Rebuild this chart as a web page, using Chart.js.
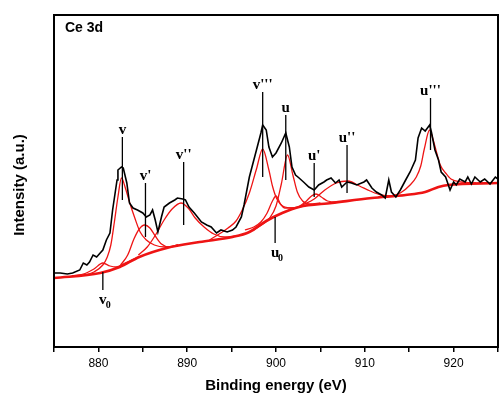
<!DOCTYPE html>
<html>
<head>
<meta charset="utf-8">
<script src="https://cdn.jsdelivr.net/npm/chart.js@4.4.0/dist/chart.umd.min.js"></script>
<style>
 body{margin:0;background:#fff;}
</style>
</head>
<body>
<canvas id="xps" width="502" height="396"></canvas>
<script>
// measured spectrum (binding energy in eV, intensity in a.u.)
var energy = [875.1,875.7,876.5,877.1,877.9,878.3,878.7,879.0,879.4,879.8,880.2,880.5,880.9,881.3,881.6,882.1,882.2,882.6,882.8,883.2,
  883.5,883.9,884.4,885.0,885.4,885.8,886.1,886.4,886.7,887.1,887.4,888.0,888.6,888.9,889.5,889.8,890.2,890.8,891.6,892.2,
  892.7,893.3,893.8,894.5,895.1,895.5,896.1,896.4,897.0,897.8,898.3,898.5,898.9,899.2,899.6,900.0,900.6,901.1,901.5,901.8,
  902.2,902.6,903.1,903.7,904.3,904.8,905.4,905.7,906.2,906.7,907.1,907.4,908.0,908.5,909.1,909.9,910.2,910.8,911.3,911.9,
  912.3,912.7,913.0,913.5,914.0,914.6,915.1,915.7,916.0,916.4,916.8,917.3,917.5,917.9,918.3,918.6,919.1,919.6,920.0,920.3,
  920.7,921.3,921.6,922.0,922.4,923.0,923.5,924.1,924.7,925.0];
var counts = [74,74,73,74,77,84,82,85,92,90,94,97,107,114,137,167,177,180,179,164,
  144,139,137,134,130,132,137,127,115,130,140,144,147,149,148,147,140,134,125,122,
  120,114,117,115,117,120,130,142,170,197,214,222,217,200,190,194,204,214,200,180,
  172,169,165,160,157,162,165,167,169,164,167,160,165,164,162,165,167,159,155,152,
  149,167,155,150,157,167,175,187,209,219,216,222,215,197,187,175,170,157,165,162,
  168,165,170,163,170,165,168,163,170,168];

// Shirley background
var bgEnergy = [875.0,880.2,882.4,884.6,887.7,891.4,895.1,897.0,898.9,900.7,902.6,906.3,910.8,914.6,916.8,918.3,919.4,925.0];
var bgCounts = [69,74,80,90,99,105,110,115,126,134,140,144,149,152,155,160,162,164];

// fitted components
var peakV0 = [[877.0,71],[878.5,73.5],[879.5,78],[880.5,84],[881.3,81],[882.0,80],[883.0,84],[884.5,90]];
var peakV = [[878.0,71],[879.5,75],[880.5,82],[881.0,90],[881.4,102],[881.8,125],[882.2,150],[882.6,169],[883.0,160],
  [883.5,145],[884.1,129],[884.7,115],[885.4,107],[886.3,102],[887.5,100],[889.0,102]];
var peakV1 = [[882.5,82],[883.3,92],[884.0,108],[884.6,118],[885.2,122],[885.8,119],[886.4,111],[887.1,103],[888.0,100],[889.0,102]];
var peakV2 = [[884.5,92],[885.5,100],[886.5,113],[887.4,127],[888.3,138],[889.3,144],[890.2,138],[890.9,129],[891.9,120],
  [893.0,113],[894.2,110],[895.5,111]];
var peakV3 = [[892.5,107],[893.6,113],[894.6,119],[895.5,126],[896.2,137],[897.0,154],[897.8,178],[898.5,198],[899.2,177],
  [899.6,161],[900.1,148],[901.0,140],[902.0,139],[903.5,142]];
var peakU0 = [[896.5,117],[897.5,120],[898.3,125],[899.0,134],[899.6,146],[900.0,151],[900.5,143],[901.0,139],[901.8,139],[903.0,141]];
var peakU = [[897.5,117],[898.5,123],[899.3,129],[900.0,141],[900.6,163],[901.3,192],[901.9,172],[902.4,155],[903.0,146],
  [903.8,143],[905.0,144]];
var peakU1 = [[901.5,137],[902.5,140],[903.3,145],[904.0,151],[904.5,153],[905.1,150],[905.8,146],[906.8,145],[908.0,146]];
var peakU2 = [[903.0,142],[904.3,148],[905.5,157],[906.8,164],[908.1,166],[909.4,161],[910.6,156],[911.8,152],[913.0,151],[914.5,152]];
var peakU3 = [[911.5,150],[912.9,151],[914.0,154],[915.1,162],[915.8,170],[916.3,181],[916.7,198],[917.3,217],[917.7,207],
  [918.1,194],[918.5,182],[919.1,174],[919.7,168],[920.9,165],[922.5,164]];

// peak markers
var markLabels = ['v', "v'", "v''", "v'''", 'u', "u'", "u''", "u'''", 'v', 'u'];
var markSub    = ['', '', '', '', '', '', '', '', '0', '0'];
var markEnergy = [882.7, 885.3, 889.6, 898.5, 901.1, 904.3, 908.0, 917.4, 880.5, 899.9];
var markTop    = [210, 164, 185, 255, 232, 184, 202, 249, 75, 130];
var markBottom = [147, 110, 122, 170, 167, 150, 154, 197, 57, 104];

var red = 'rgb(238,20,20)';

function xy(xs, ys){
  return xs.map(function(x, i){ return {x: x, y: ys[i]}; });
}
function pairs(p){
  return p.map(function(q){ return {x: q[0], y: q[1]}; });
}
function comp(p){
  return {data: pairs(p), borderColor: red, borderWidth: 1.3, fill: false, cubicInterpolationMode: 'monotone', pointRadius: 0};
}

var overlay = {
  id: 'overlay',
  afterDatasetsDraw: function(chart){
    var ctx = chart.ctx, a = chart.chartArea, xs = chart.scales.x, ys = chart.scales.y;
    ctx.save();
    ctx.strokeStyle = '#000';
    ctx.lineWidth = 2;
    ctx.strokeRect(a.left, a.top, a.right - a.left, a.bottom - a.top);

    ctx.fillStyle = '#000';
    ctx.font = 'bold 14px "Liberation Sans"';
    ctx.textAlign = 'left';
    ctx.textBaseline = 'middle';
    ctx.fillText('Ce 3d', 65, 28);

    ctx.font = 'bold 15px "Liberation Sans"';
    ctx.textAlign = 'center';
    ctx.fillText('Binding energy (eV)', (a.left + a.right) / 2, 386);
    ctx.save();
    ctx.translate(20, 185);
    ctx.rotate(-Math.PI / 2);
    ctx.fillText('Intensity (a.u.)', 0, 0);
    ctx.restore();

    ctx.lineWidth = 1.3;
    for (var i = 0; i < markLabels.length; i++) {
      var px = xs.getPixelForValue(markEnergy[i]);
      var y1 = ys.getPixelForValue(markTop[i]);
      var y2 = ys.getPixelForValue(markBottom[i]);
      ctx.beginPath();
      ctx.moveTo(px, y1);
      ctx.lineTo(px, y2);
      ctx.stroke();
      ctx.font = 'bold 15px "Liberation Serif"';
      if (markSub[i]) {
        ctx.textAlign = 'center';
        ctx.textBaseline = 'top';
        ctx.fillText(markLabels[i], px, y2 + 3);
        ctx.font = 'bold 10px "Liberation Serif"';
        ctx.textAlign = 'left';
        ctx.fillText(markSub[i], px + 3, y2 + 10);
      } else {
        ctx.textAlign = 'center';
        ctx.textBaseline = 'bottom';
        ctx.fillText(markLabels[i], px, y1 + 1);
      }
    }
    ctx.restore();
  }
};

var ctx = document.getElementById('xps').getContext('2d');
var chart = new Chart(ctx, {
  type: 'line',
  data: {
    datasets: [
      {data: xy(energy, counts), borderColor: '#000', borderWidth: 1.6, fill: false, pointRadius: 0, tension: 0},
      comp(peakV0), comp(peakV), comp(peakV1), comp(peakV2), comp(peakV3),
      comp(peakU0), comp(peakU), comp(peakU1), comp(peakU2), comp(peakU3),
      {data: xy(bgEnergy, bgCounts), borderColor: red, borderWidth: 2.6, fill: false, pointRadius: 0, cubicInterpolationMode: 'monotone'}
    ]
  },
  options: {
    responsive: false,
    animation: false,
    layout: {padding: {top: 15, right: 2, left: 0, bottom: 0}},
    plugins: {legend: {display: false}, tooltip: {enabled: false}},
    scales: {
      x: {
        type: 'linear', min: 875, max: 925,
        afterFit: function(s){ s.height = 49; },
        grid: {display: true, drawOnChartArea: false, drawTicks: true, tickLength: 5, color: '#000', lineWidth: 1.5},
        border: {display: false},
        ticks: {stepSize: 5, autoSkip: false, maxRotation: 0, color: '#000', padding: 4,
          font: {family: 'Liberation Sans', size: 12},
          callback: function(v){ return v % 10 === 0 && v > 875 && v < 925 ? v : ''; }}
      },
      y: {
        min: 0, max: 332,
        afterFit: function(s){ s.width = 54; },
        ticks: {display: false},
        grid: {display: false},
        border: {display: false}
      }
    }
  },
  plugins: [overlay]
});
</script>
</body>
</html>
